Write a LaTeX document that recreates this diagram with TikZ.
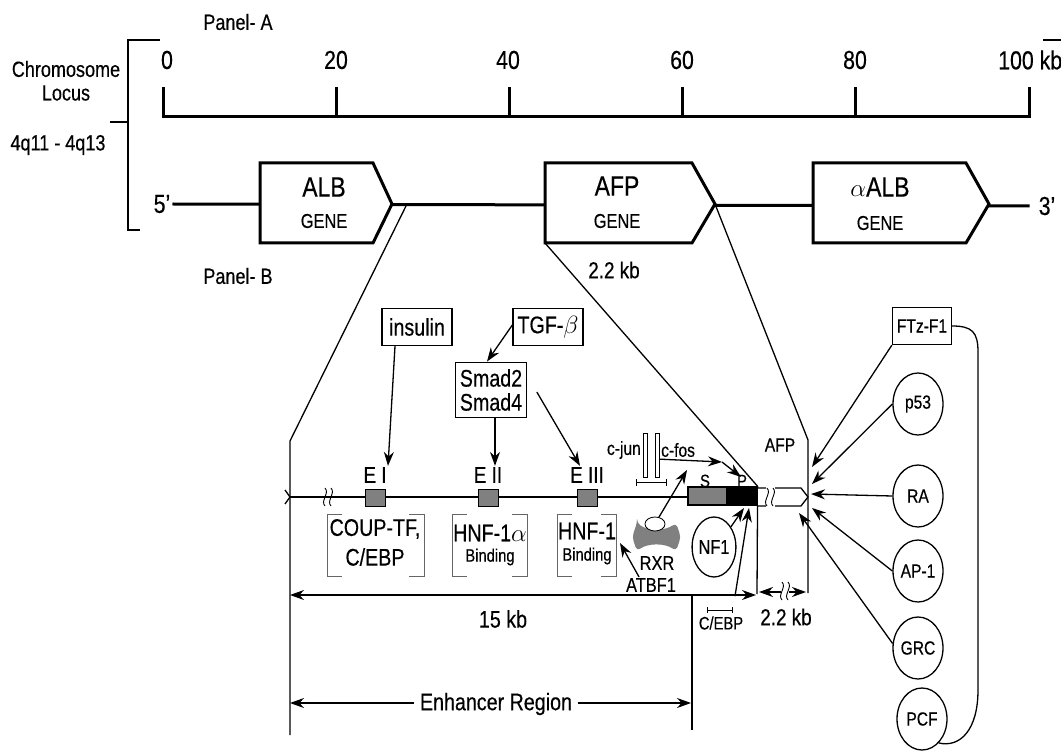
\documentclass[tikz,border=0pt]{standalone}
\usepackage{fontspec}
\setmainfont{Liberation Sans}[FakeStretch=0.82,FakeBold=0.4]
\usetikzlibrary{arrows.meta,shapes.geometric}

\newcommand\fsz[1]{\fontsize{#1}{#1}\selectfont}
% two small wavy strokes marking a break in a line
\newcommand\wavy[2]{%
  \foreach \q in {-3,3}
    \draw[line width=0.9pt] ({#1+\q},{#2-9}) .. controls ({#1+\q+5},{#2-4}) and ({#1+\q-5},{#2+4}) .. ({#1+\q},{#2+9});}

\tikzset{
  heavy/.style={line width=3pt},
  slim/.style={line width=1.3pt},
  arr/.style={slim,-{Stealth[length=14pt,width=10pt]}},
  twoway/.style={slim,{Stealth[length=14pt,width=10pt]}-{Stealth[length=14pt,width=10pt]}},
  lbl/.style={inner sep=1pt,font=\fsz{#1}},
  lbl/.default=19,
  factor/.style={draw,slim,inner sep=2pt,minimum width=70pt,minimum height=37pt,font=\fsz{#1}},
  factor/.default=24,
  tf/.style={draw,slim,ellipse,inner sep=0pt,minimum width=50pt,minimum height=62pt,font=\fsz{19}},
  enh/.style={draw,line width=1pt,fill=gray,inner sep=0pt,minimum width=20pt,minimum height=17pt},
  bind/.style={line width=0.8pt,black!60},
}

\begin{document}
\begin{tikzpicture}[x=1pt,y=-1pt]
\useasboundingbox (0,0) rectangle (1061,751);

% panel A
\node[lbl=22] (panA) at (238,22) {Panel- A};
\node[lbl=22] (chrom) at (66,69) {Chromosome};
\node[lbl=22] (locus) at (66,93) {Locus};
\node[lbl=22] (band) at (58,145) {4q11 - 4q13};
\coordinate (brA) at (160,40);
\coordinate (brB) at (140,230);
\coordinate (brM) at (110,122);
\coordinate (brR) at (1043,40);
\draw[line width=1.5pt] (brA) -- (128,40) -- (128,230) -- (brB);
\draw[line width=1.5pt] (brM) -- (128,122);
\draw[line width=1.5pt] (brR) -- (1062,40);

\draw[heavy] (163,87) -- (163,117) -- (1029,117) -- (1029,87);
\foreach \x in {336,509,682,855} \draw[heavy] (\x,87) -- (\x,117);
\foreach \x/\t in {167/0,336/20,508/40,682/60,855/80}
  \node[lbl=26] (kb\t) at (\x,60) {\t};
\node[lbl=26,anchor=west] (kb100) at (997,60) {100 kb};

% zoom lines down to panel B
\coordinate (albcut) at (406,206);
\coordinate (enhtop) at (290,441);
\coordinate (enhbot) at (290,735);
\coordinate (afpbl) at (545,243);
\coordinate (afptip) at (715,204);
\coordinate (afpr) at (808,440);
\coordinate (afprb) at (808,593);
\draw[slim] (albcut) -- (enhtop) -- (enhbot);
\draw[slim] (afptip) -- (afpr) -- (afprb);

% genes
\node[lbl=26] (five) at (162,204) {5’};
\node[lbl=26] (three) at (1047,206) {3’};
\draw[heavy] ([xshift=1pt]five.east) -- ([xshift=-8pt]three.west);
\draw[heavy,fill=white] (260,163) -- (373,163) -- (392,204) -- (373,243) -- (260,243) -- cycle;
\draw[heavy,fill=white] (545,163) -- (692,163) -- (715,204) -- (692,243) -- (545,243) -- cycle;
\draw[heavy,fill=white] (813,163) -- (966,163) -- (989,204) -- (966,243) -- (813,243) -- cycle;
\node[lbl=28] (alb) at (324,187) {ALB};
\node[lbl=20] (albg) at (324,221) {GENE};
\node[lbl=28] (afp) at (617,186) {AFP};
\node[lbl=20] (afpg) at (617,221) {GENE};
\node[lbl=28] (aalb) at (880,187) {$\alpha$ALB};
\node[lbl=20] (aalbg) at (880,223) {GENE};
\node[lbl=23] (afplen) at (614,270) {2.2 kb};

% panel B
\node[lbl=22] (panB) at (238,276) {Panel- B};
\coordinate (m0) at (290,497);
\coordinate (m1) at (690,497);
\draw[slim] (m0) -- (m1);
\draw[slim] (285,490) -- (m0) -- (285,504);
\wavy{328}{497}

\foreach \n/\x/\t in {1/375/E I,2/488/E II,3/587/E III}{
  \node[enh] (e\n) at (\x,498) {};
  \node[lbl=23] (el\n) at (\x,475) {\t};
}
\foreach \l/\r in {327/424,452/527,557/616}{
  \draw[bind] ({\l+15},514) -- (\l,514) -- (\l,576) -- ({\l+15},576);
  \draw[bind] ({\r-15},514) -- (\r,514) -- (\r,576) -- ({\r-15},576);
}
\node[lbl=24] (coup) at (375,529) {COUP-TF,};
\node[lbl=24] (cebpa) at (375,557) {C/EBP};
\node[lbl=24] (hnfa) at (490,533) {HNF-1$\alpha$};
\node[lbl=18] (hnfab) at (490,557) {Binding};
\node[lbl=24] (hnf) at (587,531) {HNF-1};
\node[lbl=18] (hnfb) at (587,556) {Binding};

% signals from above
\node[factor] (ins) at (417,327) {insulin};
\node[factor] (tgf) at (548,327) {TGF-$\beta$};
\node[draw,slim,align=center,inner xsep=4pt,inner ysep=7pt,font=\fsz{24}] (smad) at (491,390) {Smad2\\Smad4};
\draw[arr] ([xshift=-22pt]ins.south) -- ([xshift=13pt]el1.north);
\draw[arr] ([yshift=2pt]tgf.west) -- ([xshift=-4pt]smad.north);
\draw[arr] ([xshift=4pt]smad.south) -- ([xshift=4pt]smad.south |- el2.north);
\draw[arr] ([xshift=10pt,yshift=-2pt]smad.east) -- ([xshift=-7pt]el3.north);

% promoter
\node[draw,slim,fill=gray,inner sep=0pt,minimum width=39pt,minimum height=18pt] (sreg) at (707.5,496) {};
\node[draw,slim,fill=black,inner sep=0pt,minimum width=30pt,minimum height=18pt] (preg) at (742,496) {};
\node[lbl=18] (slbl) at (705,481) {S};
\node[lbl=18] (plbl) at (742,481) {P};
\draw[slim] (afpbl) -- (preg.north east);
\coordinate (pdrop) at (757,594);
\draw[slim] (preg.north east) -- (pdrop);
\draw[slim,fill=white] (758,488) -- (801,488) -- (808,497) -- (801,506) -- (758,506);
\fill[white] (766,484) rectangle (775,510);
\wavy{770}{497}
\node[lbl=19] (afpsm) at (780,445) {AFP};

% c-jun / c-fos
\node[draw,line width=0.8pt,fill=white,inner sep=0pt,minimum width=4pt,minimum height=44pt] (jun) at (645.5,455) {};
\node[draw,line width=0.8pt,fill=white,inner sep=0pt,minimum width=4pt,minimum height=44pt] (fos) at (657.5,455) {};
\node[lbl=19,anchor=east] (cjun) at (642,450) {c-jun};
\node[lbl=19,anchor=west] (cfos) at (660,450) {c-fos};
\coordinate (jfa) at (636,482);
\coordinate (jfb) at (667,482);
\draw[line width=1pt,{Bar[width=7pt]}-{Bar[width=7pt]}] (jfa) -- (jfb);
\coordinate (fosA) at (722,462);
\coordinate (ptip) at (741,477);
\draw[arr] ([yshift=-1pt]cfos.south west) -- (fosA);
\draw[arr] (fosA) -- (ptip);

% RXR
\fill[gray,rounded corners=4pt] (637,523) .. controls (648,531) and (665,531) .. (676,523)
  .. controls (681,537) .. (676,551) .. controls (665,543) and (648,543) .. (637,551)
  .. controls (632,537) .. cycle;
\node[draw,line width=0.8pt,fill=white,ellipse,inner sep=0pt,minimum width=20pt,minimum height=14pt] (rxrcap) at (655,524) {};
\coordinate (rxrtip) at (687,470);
\draw[arr] (rxrcap.60) -- (rxrtip);
\node[lbl=20] (rxr) at (657,563) {RXR};
\node[lbl=20] (atbf) at (651,585) {ATBF1};
\coordinate (hnftip) at (620,543);
\draw[arr] ([xshift=-12pt]atbf.north) -- (hnftip);

% NF1 and C/EBP
\node[draw,slim,ellipse,inner sep=0pt,minimum width=42pt,minimum height=60pt,font=\fsz{20}] (nf1) at (714,547) {NF1};
\coordinate (nftip) at (744,508);
\draw[arr] (nf1.50) -- (nftip);
\node[lbl=18] (cebpb) at (721,623) {C/EBP};
\coordinate (cba) at (707,610);
\coordinate (cbb) at (733,610);
\draw[line width=1pt,{Bar[width=6pt]}-{Bar[width=6pt]}] (cba) -- (cbb);
\coordinate (cebptip) at (749,508);
\draw[arr] ([xshift=14pt,yshift=19pt]cebpb.north) -- (cebptip);

% lengths
\coordinate (k15a) at (290,595);
\coordinate (k15b) at (756,595);
\draw[twoway] (k15a) -- (k15b);
\node[lbl=24] (k15) at (503,619) {15 kb};
\coordinate (k22a) at (759,592);
\coordinate (k22b) at (806,592);
\draw[twoway] (k22a) -- (k22b);
\fill[white] (781,586) rectangle (789,598);
\wavy{785}{591}
\node[lbl=23] (k22) at (786,617) {2.2 kb};
\coordinate (er0) at (290,703);
\coordinate (er1) at (691,703);
\coordinate (erv0) at (692,595);
\coordinate (erv1) at (692,730);
\draw[slim] (erv0) -- (erv1);
\draw[twoway] (er0) -- (er1);
\node[lbl=24,fill=white,inner xsep=6pt] (erl) at (496,704) {Enhancer Region};

% factors on the right
\node[factor=19,minimum width=59pt] (ftz) at (922,326) {FTz-F1};
\node[tf] (p53) at (918,404) {p53};
\node[tf] (ra) at (918,496) {RA};
\node[tf] (ap1) at (918,571) {AP-1};
\node[tf] (grc) at (918,648) {GRC};
\node[tf] (pcf) at (922,719) {PCF};
\coordinate (t1) at (812,467);
\coordinate (t2) at (812,484);
\coordinate (t3) at (811,494);
\coordinate (t4) at (812,508);
\coordinate (t5) at (799,513);
\draw[arr] (ftz.south west) -- (t1);
\draw[arr] (p53.west) -- (t2);
\draw[arr] (ra.west) -- (t3);
\draw[arr] (ap1.west) -- (t4);
\draw[arr] (grc.170) -- (t5);
\draw[slim] (ftz.east) .. controls (972,326) and (978,332) .. (978,352) -- (978,690)
  .. controls (978,730) and (960,748) .. (pcf.-55);
\end{tikzpicture}
\end{document}
